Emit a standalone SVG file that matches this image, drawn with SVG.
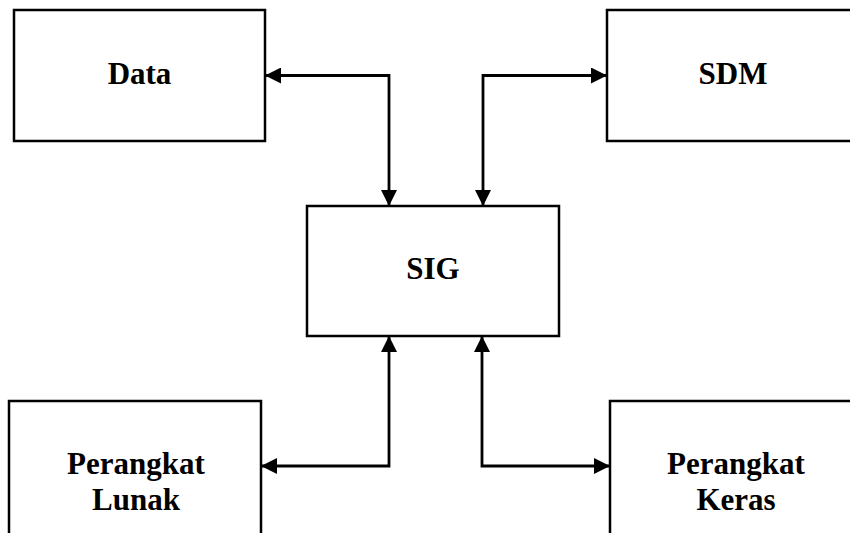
<svg xmlns="http://www.w3.org/2000/svg" width="850" height="533" viewBox="0 0 850 533">
<style>
.box{fill:#fff;stroke:#000;stroke-width:2.5}
.lbl{font-family:"Liberation Serif","Times New Roman",serif;font-weight:bold;font-size:31px;fill:#000;text-anchor:middle}
.con{fill:none;stroke:#000;stroke-width:2.8;marker-start:url(#ah);marker-end:url(#ah)}
</style>
<defs>
<marker id="ah" viewBox="0 0 16 16" refX="16" refY="8" markerWidth="16" markerHeight="16" markerUnits="userSpaceOnUse" orient="auto-start-reverse">
<path d="M0,0 L16,8 L0,16 z" fill="#000"/>
</marker>
</defs>
<rect width="850" height="533" fill="#fff"/>
<g id="connectors">
<path class="con" d="M389,206 L389,75.5 L265,75.5"/>
<path class="con" d="M483,206 L483,75.5 L607,75.5"/>
<path class="con" d="M389,336 L389,466 L261,466"/>
<path class="con" d="M482,336 L482,466 L610,466"/>
</g>
<g id="data">
<rect class="box" x="14" y="10" width="251" height="131"/>
<text class="lbl" x="139.5" y="84">Data</text>
</g>
<g id="sdm">
<rect class="box" x="607" y="10" width="251" height="131"/>
<text class="lbl" x="733" y="84">SDM</text>
</g>
<g id="sig">
<rect class="box" x="307" y="206" width="252" height="130"/>
<text class="lbl" x="433" y="279">SIG</text>
</g>
<g id="perangkat-lunak">
<rect class="box" x="9" y="401" width="252" height="150"/>
<text class="lbl" x="136" y="474">Perangkat</text>
<text class="lbl" x="136" y="510">Lunak</text>
</g>
<g id="perangkat-keras">
<rect class="box" x="610" y="401" width="252" height="150"/>
<text class="lbl" x="736" y="474">Perangkat</text>
<text class="lbl" x="736" y="510">Keras</text>
</g>
</svg>
